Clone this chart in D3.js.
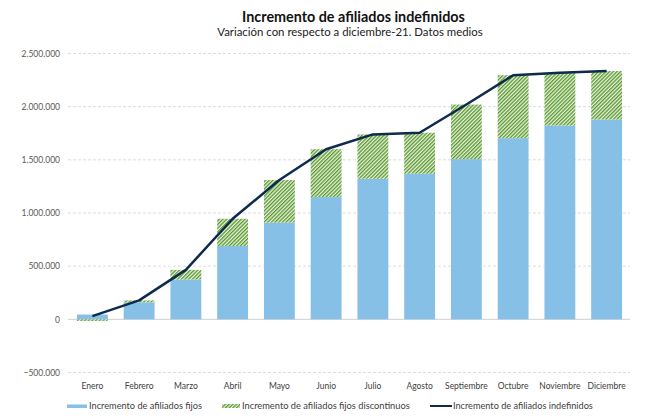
<!DOCTYPE html>
<html><head><meta charset="utf-8">
<script src="https://cdn.jsdelivr.net/npm/d3@7"></script>
<style>body{margin:0;background:#fff}svg{display:block}</style>
</head><body>
<svg id="c" width="650" height="419"></svg>
<script>
const months = ["Enero","Febrero","Marzo","Abril","Mayo","Junio","Julio","Agosto","Septiembre","Octubre","Noviembre","Diciembre"];
const fijos = [45000,160000,375000,690000,910000,1150000,1322000,1369000,1507000,1704000,1823000,1880000];
const discontinuos = [-15000,18000,90000,256000,400000,450000,417000,386000,513000,592000,495000,455000];
const indefinidos = [30000,178000,465000,946000,1310000,1600000,1739000,1755000,2020000,2296000,2318000,2335000];
const yTicks = [-500000,0,500000,1000000,1500000,2000000,2500000];
const legendLabels = ["Incremento de afiliados fijos","Incremento de afiliados fijos discontinuos","Incremento de afiliados indefinidos"];

const FONT = "Lato, 'Open Sans', sans-serif";
const svg = d3.select("#c");
const defs = svg.append("defs");
const pat = defs.append("pattern").attr("id","hatch").attr("patternUnits","userSpaceOnUse")
  .attr("width",2.6).attr("height",2.6).attr("patternTransform","rotate(45)");
pat.append("rect").attr("width",2.6).attr("height",2.6).attr("fill","#e8f2dc");
pat.append("rect").attr("width",1.3).attr("height",2.6).attr("fill","#58972f");

const x = d3.scaleBand().domain(months).range([69,630]).paddingInner(0.34).paddingOuter(0.17);
const y = d3.scaleLinear().domain([-500000,2500000]).range([372.5,53.5]);
const fmt = v => d3.format(",")(v).replace(/,/g,".");

// grid
svg.append("g").selectAll("line").data(yTicks).join("line")
  .attr("x1",68).attr("x2",630).attr("y1",d=>y(d)).attr("y2",d=>y(d))
  .attr("stroke",d=>d===0?"#d0d0d0":"#dcdcdc").attr("stroke-width",1)
  .attr("stroke-dasharray",d=>d===0?null:"3,2");

// y labels
const yAxis = d3.axisLeft(y).tickValues(yTicks).tickFormat(fmt).tickSize(0).tickPadding(0);
const ya = svg.append("g").attr("transform","translate(60,0)").call(yAxis);
ya.select(".domain").remove();
ya.selectAll("text").attr("font-family",FONT).attr("font-size",8.5).attr("fill","#595959");

// bars
const bw = x.bandwidth();
svg.append("g").selectAll("rect").data(months).join("rect")
  .attr("x",d=>x(d)).attr("width",bw)
  .attr("y",(d,i)=>y(Math.max(0,fijos[i]))).attr("height",(d,i)=>Math.abs(y(0)-y(fijos[i])))
  .attr("fill","#86c0e6");
svg.append("g").selectAll("rect").data(months).join("rect")
  .attr("x",d=>x(d)).attr("width",bw)
  .attr("y",(d,i)=>discontinuos[i]>=0 ? y(fijos[i]+discontinuos[i]) : y(0))
  .attr("height",(d,i)=>discontinuos[i]>=0 ? y(fijos[i])-y(fijos[i]+discontinuos[i]) : y(discontinuos[i])-y(0))
  .attr("fill","url(#hatch)");

// line
const line = d3.line().x((d,i)=>x(months[i])+bw/2).y(d=>y(d));
svg.append("path").datum(indefinidos).attr("d",line).attr("fill","none")
  .attr("stroke","#0e2a4d").attr("stroke-width",2.5).attr("stroke-linejoin","round");

// x labels
const xAxis = d3.axisBottom(x).tickSize(0).tickPadding(0);
const xa = svg.append("g").attr("transform","translate(0,389)").call(xAxis);
xa.select(".domain").remove();
xa.selectAll("text").attr("dy",0).attr("font-family",FONT).attr("font-size",8.5).attr("fill","#404040");

// titles
function fit(sel, target){ const w = sel.node().getComputedTextLength(); const fs = +sel.attr("font-size"); sel.attr("font-size", fs*target/w); }
const t1 = svg.append("text").attr("x",353.5).attr("y",22).attr("text-anchor","middle")
  .attr("font-family",FONT).attr("font-weight","bold").attr("font-size",14).attr("fill","#111")
  .text("Incremento de afiliados indefinidos");
fit(t1,223);
const t2 = svg.append("text").attr("x",350).attr("y",36).attr("text-anchor","middle")
  .attr("font-family",FONT).attr("font-size",12).attr("fill","#222")
  .text("Variación con respecto a diciembre-21. Datos medios");
fit(t2,266);

// legend
const lg = svg.append("g");
lg.append("rect").attr("x",67).attr("y",404.5).attr("width",20).attr("height",3.5).attr("fill","#86c0e6");
lg.append("rect").attr("x",222).attr("y",404).attr("width",18).attr("height",4).attr("fill","url(#hatch)");
lg.append("line").attr("x1",430).attr("x2",452).attr("y1",406).attr("y2",406).attr("stroke","#0e2a4d").attr("stroke-width",2);
const lx = [89,242,453], lw = [113,168,140];
legendLabels.forEach((t,i)=>{
  const s = lg.append("text").attr("x",lx[i]).attr("y",409).attr("font-family",FONT).attr("font-size",8.5).attr("fill","#404040").text(t);
  fit(s,lw[i]);
});
</script>
</body></html>
